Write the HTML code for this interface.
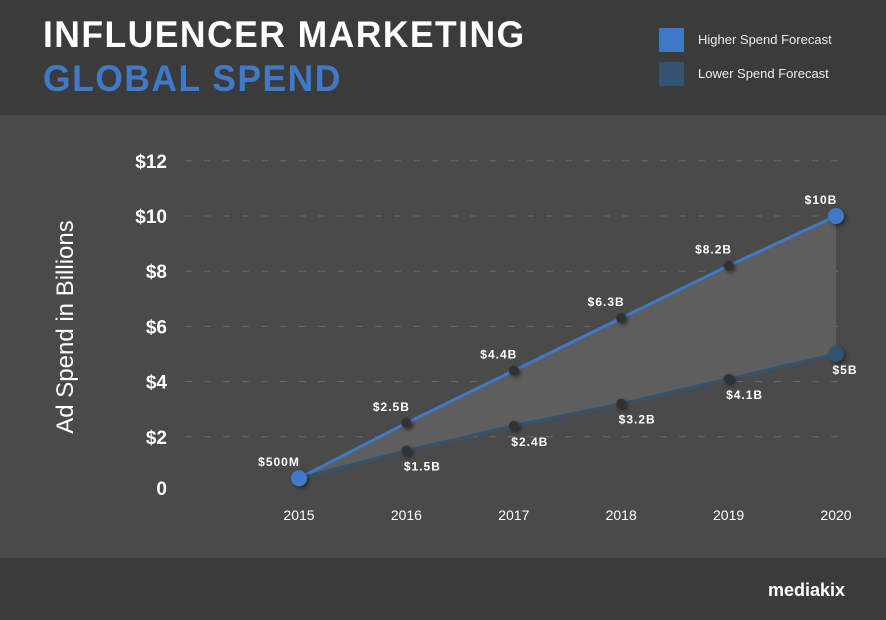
<!DOCTYPE html>
<html><head><meta charset="utf-8"><style>
body{margin:0;width:886px;height:620px;overflow:hidden;background:#4a4a4a;font-family:"Liberation Sans",sans-serif}
#hdr{position:absolute;left:0;top:0;width:886px;height:115px;background:#3b3b3b}
#ftr{position:absolute;left:0;top:558px;width:886px;height:62px;background:#3b3b3b}
.t1{position:absolute;left:43px;top:14px;font-size:37px;font-weight:bold;color:#fff;letter-spacing:1.5px;transform:scaleX(0.96);transform-origin:left}
.t2{position:absolute;left:43px;top:58px;font-size:37px;font-weight:bold;color:#3f7ac8;letter-spacing:1.5px;transform:scaleX(0.96);transform-origin:left}
.lg{position:absolute;width:25px;height:24px}
.lt{position:absolute;left:698px;font-size:13px;color:#eee}
svg{position:absolute;left:0;top:0}
</style></head><body>
<div id="hdr"></div>
<div id="ftr"></div>
<div class="t1">INFLUENCER MARKETING</div>
<div class="t2">GLOBAL SPEND</div>
<div class="lg" style="left:659px;top:28px;background:#3f7ac8"></div>
<div class="lt" style="top:32px">Higher Spend Forecast</div>
<div class="lg" style="left:659px;top:62px;background:#33536f"></div>
<div class="lt" style="top:66px">Lower Spend Forecast</div>
<svg id="c" width="886" height="620">
<defs><filter id="sh" x="-50%" y="-50%" width="200%" height="200%"><feDropShadow dx="2" dy="2" stdDeviation="2" flood-color="#000" flood-opacity="0.5"/></filter></defs>
<text x="0" y="0" transform="translate(73,327) rotate(-90)" text-anchor="middle" font-size="24" fill="#fff">Ad Spend in Billions</text>
<text x="845" y="596" text-anchor="end" font-size="18" font-weight="bold" fill="#fff">mediakix</text>
</svg>
<script>
const years=[2015,2016,2017,2018,2019,2020];
const high=[0.5,2.5,4.4,6.3,8.2,10];
const low=[0.5,1.5,2.4,3.2,4.1,5];
const highLabels=["$500M","$2.5B","$4.4B","$6.3B","$8.2B","$10B"];
const lowLabels=["","$1.5B","$2.4B","$3.2B","$4.1B","$5B"];
const yTicks=[0,2,4,6,8,10,12];
const yTickLabels=["0","$2","$4","$6","$8","$10","$12"];
const NS="http://www.w3.org/2000/svg";
const svg=document.getElementById('c');
const x=i=>299+i*107.4;
const y=v=>492-v*27.6;
function mk(t,a){const e=document.createElementNS(NS,t);for(const k in a)e.setAttribute(k,a[k]);svg.appendChild(e);return e;}
yTicks.forEach((t,i)=>{
 if(t>0){const g=mk('line',{x1:185,x2:840,y1:y(t),y2:y(t),stroke:'#6a6a6a','stroke-dasharray':'7 12','stroke-width':1});
 
 }
 const l=mk('text',{x:167,y:(t===0?y(t)+3:y(t)+7),'text-anchor':'end','font-size':19,'font-weight':'bold',fill:'#fff'});l.textContent=yTickLabels[i];
 
 
});
years.forEach((yr,i)=>{const l=mk('text',{x:x(i),y:520,'text-anchor':'middle','font-size':14,fill:'#fff'});l.textContent=yr;
 
 });
let pts=high.map((v,i)=>x(i)+','+y(v)).concat(low.map((v,i)=>x(i)+','+y(v)).reverse());
const area=mk('polygon',{points:pts.join(' '),fill:'#5e5e5e'});


const lh=mk('polyline',{points:high.map((v,i)=>x(i)+','+y(v)).join(' '),fill:'none',stroke:'#3f7ac8','stroke-width':3});


const ll=mk('polyline',{points:low.map((v,i)=>x(i)+','+y(v)).join(' '),fill:'none',stroke:'#33536f','stroke-width':3});


function pt(i,v,end,col,lab,name,above){
 const c=mk('circle',{cx:x(i),cy:y(v),r:end?8:5,fill:end?col:'#333',filter:'url(#sh)'});
 
 
 if(lab){const dx=above?(i===0?-20:-15):(i===5?9:16);
 const t=mk('text',{x:x(i)+dx,y:above?y(v)-12:y(v)+20,'text-anchor':'middle','font-size':12,'font-weight':'bold',fill:'#fff','letter-spacing':1});t.textContent=lab;
 
 }
}
low.forEach((v,i)=>{if(i>0)pt(i,v,i===5,'#33536f',lowLabels[i],'lower-point',false);});
high.forEach((v,i)=>pt(i,v,i===0||i===5,'#3f7ac8',highLabels[i],'higher-point',true));
</script>
</body></html>
